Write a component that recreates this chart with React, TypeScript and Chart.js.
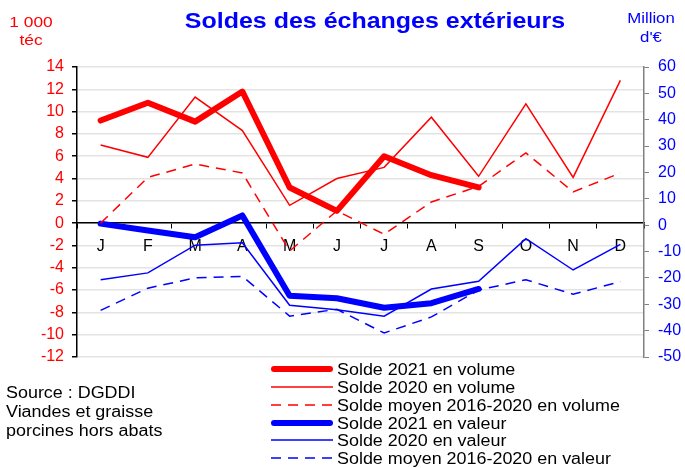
import React, { useEffect, useRef } from 'react';
import { Chart, registerables } from 'chart.js';

Chart.register(...registerables);

// ---- Data ----
const months = ['J', 'F', 'M', 'A', 'M', 'J', 'J', 'A', 'S', 'O', 'N', 'D'];

// volume, 1 000 téc (left axis)
const volume2021 = [9.2, 10.8, 9.1, 11.8, 3.2, 1.1, 6.0, 4.3, 3.2, null, null, null];
const volume2020 = [7.0, 5.9, 11.3, 8.3, 1.6, 4.0, 5.0, 9.5, 4.2, 10.7, 4.1, 12.8];
const volumeAvg = [0, 4.1, 5.3, 4.5, -2.5, 1.1, -1.0, 1.9, 3.3, 6.3, 2.8, 4.5];

// value, million € (right axis)
const value2021 = [0.6, -2.0, -4.6, 3.7, -26.8, -27.7, -31.3, -29.6, -24.2, null, null, null];
const value2020 = [-20.7, -18.1, -7.6, -6.7, -30.4, -32.1, -34.5, -24.2, -21.3, -5.1, -17.0, -7.3];
const valueAvg = [-32.3, -23.9, -20.0, -19.4, -34.5, -31.9, -40.9, -34.8, -24.6, -20.7, -26.2, -21.4];

const seriesLabels = [
  'Solde 2021 en volume',
  'Solde 2020 en volume',
  'Solde moyen 2016-2020 en volume',
  'Solde 2021 en valeur',
  'Solde 2020 en valeur',
  'Solde moyen 2016-2020 en valeur',
];

const titleText = 'Soldes des échanges extérieurs';
const leftUnit = ['1 000', 'téc'];
const rightUnit = ['Million', "d'€"];
const sourceLines = ['Source : DGDDI', 'Viandes et graisse', 'porcines hors abats'];

const leftMin = -12;
const leftMax = 14;
const leftStep = 2;
const rightMin = -50;
const rightMax = 60;
const rightStep = 10;

// ---- Styles ----
const RED = '#FF0000';
const BLUE = '#0000FF';
const FONT = '"Liberation Sans", Arial, Helvetica, sans-serif';
const STRETCH = 1.12;

function drawText(
  ctx: CanvasRenderingContext2D,
  text: string,
  x: number,
  y: number,
  font: string,
  color: string,
  align: CanvasTextAlign = 'left'
) {
  ctx.save();
  ctx.translate(x, y);
  ctx.scale(STRETCH, 1);
  ctx.font = font;
  ctx.fillStyle = color;
  ctx.textAlign = align;
  ctx.textBaseline = 'alphabetic';
  ctx.fillText(text, 0, 0);
  ctx.restore();
}

const overlayPlugin = {
  id: 'overlay',
  afterDraw(chart: any) {
    const ctx: CanvasRenderingContext2D = chart.ctx;
    // Title
    drawText(ctx, titleText, 375, 27.5, `bold 22.3px ${FONT}`, BLUE, 'center');
    // Unit labels
    drawText(ctx, leftUnit[0], 31, 26.5, `15.5px ${FONT}`, RED, 'center');
    drawText(ctx, leftUnit[1], 31, 45, `15.5px ${FONT}`, RED, 'center');
    drawText(ctx, rightUnit[0], 651, 23, `15px ${FONT}`, BLUE, 'center');
    drawText(ctx, rightUnit[1], 651, 42, `15px ${FONT}`, BLUE, 'center');

    // Legend
    const rows = [369, 387, 405, 423, 440, 458];
    chart.data.datasets.forEach((ds: any, i: number) => {
      const y = rows[i];
      ctx.save();
      ctx.strokeStyle = ds.borderColor;
      ctx.lineWidth = ds.borderWidth;
      ctx.lineCap = ds.borderWidth > 3 ? 'round' : 'butt';
      ctx.setLineDash(ds.borderDash || []);
      ctx.beginPath();
      const x0 = ds.borderWidth > 3 ? 274 : 271;
      const x1 = ds.borderWidth > 3 ? 330 : 333;
      ctx.moveTo(x0, y);
      ctx.lineTo(x1, y);
      ctx.stroke();
      ctx.restore();
      drawText(ctx, ds.label, 337, y + 5.6, `16px ${FONT}`, '#000000');
    });

    // Source
    const srcY = [397.5, 416.8, 435.8];
    sourceLines.forEach((t, i) => drawText(ctx, t, 6, srcY[i], `16px ${FONT}`, '#000000'));
  },
};

export default function App() {
  const canvasRef = useRef<HTMLCanvasElement | null>(null);

  useEffect(() => {
    document.body.style.margin = '0';
    const canvas = canvasRef.current;
    if (!canvas) return;

    const thick = 6;
    const thin = 1.5;
    const dash = [10, 7];

    const chart = new Chart(canvas, {
      type: 'line',
      data: {
        labels: months,
        datasets: [
          { label: seriesLabels[0], data: volume2021, yAxisID: 'y', borderColor: RED, borderWidth: thick, borderCapStyle: 'round', borderJoinStyle: 'round' },
          { label: seriesLabels[1], data: volume2020, yAxisID: 'y', borderColor: RED, borderWidth: thin },
          { label: seriesLabels[2], data: volumeAvg, yAxisID: 'y', borderColor: RED, borderWidth: thin, borderDash: dash },
          { label: seriesLabels[3], data: value2021, yAxisID: 'y1', borderColor: BLUE, borderWidth: thick, borderCapStyle: 'round', borderJoinStyle: 'round' },
          { label: seriesLabels[4], data: value2020, yAxisID: 'y1', borderColor: BLUE, borderWidth: thin },
          { label: seriesLabels[5], data: valueAvg, yAxisID: 'y1', borderColor: BLUE, borderWidth: thin, borderDash: dash },
        ] as any,
      },
      options: {
        responsive: false,
        animation: false,
        devicePixelRatio: 1,
        layout: { padding: { left: 0, right: 0, top: 67, bottom: 111 } },
        elements: {
          point: { radius: 0, hoverRadius: 0 },
          line: { tension: 0, fill: false },
        },
        plugins: {
          legend: { display: false },
          title: { display: false },
          tooltip: { enabled: false },
        },
        scales: {
          x: {
            type: 'category',
            offset: true,
            position: { y: 0 } as any,
            grid: {
              display: true,
              drawOnChartArea: false,
              drawTicks: true,
              tickLength: 5,
              tickColor: '#000000',
              offset: true,
            },
            border: { display: true, color: '#000000', width: 1.5 },
            ticks: {
              color: '#000000',
              font: { family: FONT, size: 16 },
              padding: 9,
              maxRotation: 0,
              autoSkip: false,
            },
          },
          y: {
            type: 'linear',
            position: 'left',
            min: leftMin,
            max: leftMax,
            afterFit: (s: any) => { s.width = 77; },
            grid: {
              color: '#e3e3e3',
              lineWidth: 1.5,
              tickColor: '#000000',
              tickLength: 5,
            },
            border: { display: true, color: '#000000', width: 1.5 },
            ticks: {
              stepSize: leftStep,
              color: RED,
              font: { family: FONT, size: 16 },
              padding: 8,
            },
          },
          y1: {
            type: 'linear',
            position: 'right',
            min: rightMin,
            max: rightMax,
            afterFit: (s: any) => { s.width = 41; },
            grid: {
              drawOnChartArea: false,
              tickColor: '#808080',
              tickLength: 5,
            },
            border: { display: true, color: '#808080', width: 1.5 },
            ticks: {
              stepSize: rightStep,
              color: BLUE,
              font: { family: FONT, size: 16 },
              padding: 9,
            },
          },
        },
      } as any,
      plugins: [overlayPlugin],
    });

    return () => chart.destroy();
  }, []);

  return (
    <div style={{ position: 'fixed', left: 0, top: 0, width: 685, height: 468, background: '#ffffff' }}>
      <canvas ref={canvasRef} width={685} height={468} style={{ display: 'block', width: 685, height: 468 }} />
    </div>
  );
}
